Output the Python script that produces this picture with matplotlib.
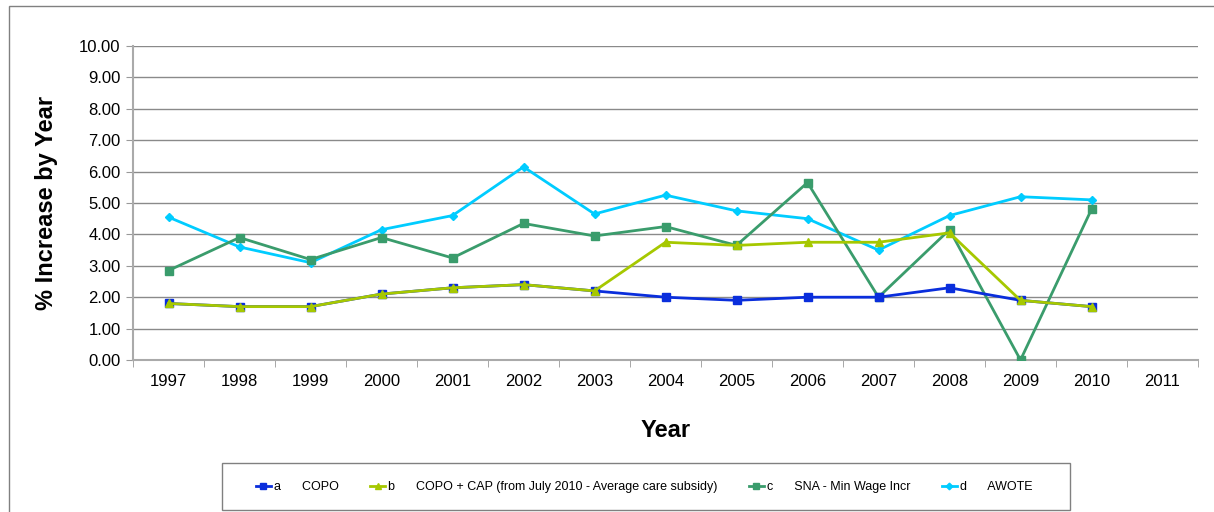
import matplotlib
matplotlib.use('Agg')
import matplotlib.pyplot as plt
from matplotlib.patches import Rectangle
import numpy as np

plt.rcParams['font.family'] = ['Liberation Sans', 'DejaVu Sans']

# Data
years = ['1997', '1998', '1999', '2000', '2001', '2002', '2003', '2004',
         '2005', '2006', '2007', '2008', '2009', '2010', '2011']
copo = [1.8, 1.7, 1.7, 2.1, 2.3, 2.4, 2.2, 2.0, 1.9, 2.0, 2.0, 2.3, 1.9, 1.7]
copo_cap = [1.8, 1.7, 1.7, 2.1, 2.3, 2.4, 2.2, 3.75, 3.65, 3.75, 3.75, 4.05, 1.9, 1.7]
sna = [2.85, 3.9, 3.2, 3.9, 3.25, 4.35, 3.95, 4.25, 3.65, 5.65, 2.0, 4.15, 0.0, 4.8]
awote = [4.55, 3.6, 3.1, 4.15, 4.6, 6.15, 4.65, 5.25, 4.75, 4.5, 3.5, 4.6, 5.2, 5.1]

labels = ['a      COPO',
          'b      COPO + CAP (from July 2010 - Average care subsidy)',
          'c      SNA - Min Wage Incr',
          'd      AWOTE']

W, H = 1214, 512
fig = plt.figure(figsize=(W / 100, H / 100), dpi=100)

# outer border like the spreadsheet chart area
fig.patches.append(Rectangle((9 / W, -0.01), 1.0, 1 - 6 / H + 0.01,
                             transform=fig.transFigure, fill=False,
                             edgecolor='#808080', linewidth=1))

ax = fig.add_axes([133 / W, 1 - 360 / H, 1065 / W, 314 / H])

x = np.arange(len(copo))
ax.plot(x, copo, color='#0A2EDC', marker='s', markersize=6, linewidth=2,
        label=labels[0], zorder=4)
ax.plot(x, copo_cap, color='#A6C800', marker='^', markersize=6, linewidth=2,
        label=labels[1], zorder=5)
ax.plot(x, sna, color='#3A9C6C', marker='s', markersize=6, linewidth=2,
        label=labels[2], zorder=3)
ax.plot(x, awote, color='#00CCFF', marker='D', markersize=4.5, linewidth=2,
        label=labels[3], zorder=2)

ax.set_xlim(-0.5, len(years) - 0.5)
ax.set_ylim(0, 10)
ax.set_yticks(np.arange(0, 11, 1))
ax.set_yticklabels(['%.2f' % v for v in np.arange(0, 11, 1)], fontsize=12)
ax.set_xticks(np.arange(len(years)))
ax.set_xticklabels(years, fontsize=12)
ax.set_xticks(np.arange(-0.5, len(years), 1), minor=True)
ax.tick_params(axis='x', which='major', length=0, pad=10)
ax.tick_params(axis='x', which='minor', length=5, color='#999999')
ax.tick_params(axis='y', length=5, color='#999999', pad=4)

ax.grid(axis='y', color='#8a8a8a', linewidth=1)
ax.set_axisbelow(True)
for s in ['top', 'right']:
    ax.spines[s].set_visible(False)
for s in ['left', 'bottom']:
    ax.spines[s].set_color('#aaaaaa')
    ax.spines[s].set_linewidth(1.5)

ax.set_xlabel('Year', fontsize=17, fontweight='bold', labelpad=22)
ax.set_ylabel('% Increase by Year', fontsize=17, fontweight='bold', labelpad=15)

# legend without its own frame; box drawn separately to match the wide padding
leg = fig.legend(loc='center', bbox_to_anchor=(644 / W, 1 - 487 / H),
                 ncol=4, fontsize=9, frameon=False,
                 handlelength=1.2, columnspacing=2.5,
                 handletextpad=0.25, markerscale=0.75)
fig.patches.append(Rectangle((222 / W, 1 - 510 / H), 848 / W, 47 / H,
                             transform=fig.transFigure, fill=False,
                             edgecolor='#808080', linewidth=1))

fig.savefig('out.png', dpi=100)
